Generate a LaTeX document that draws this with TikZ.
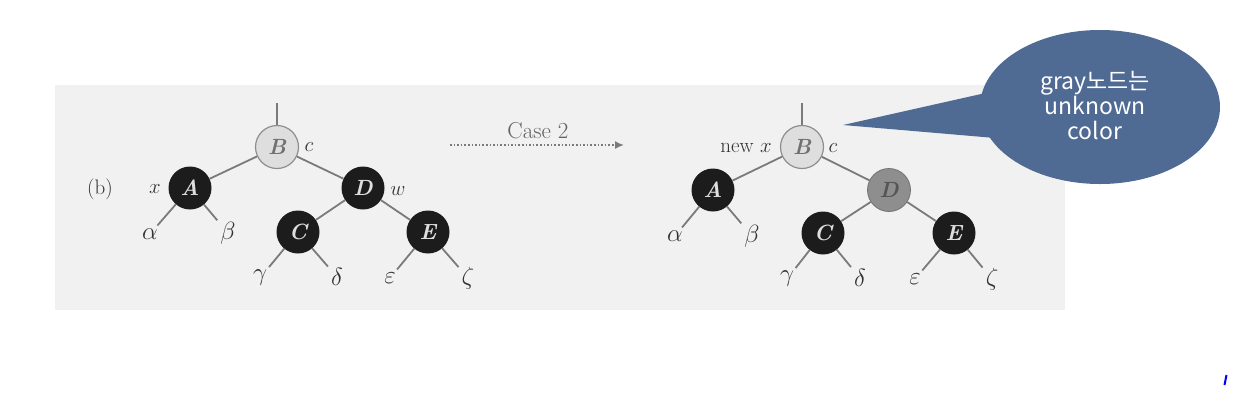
\documentclass[tikz,border=0pt]{standalone}
\usepackage{fontspec}
\newfontfamily\krfont{Noto Sans CJK KR}
\usetikzlibrary{arrows.meta,shapes.geometric}
\definecolor{panel}{HTML}{F1F1F1}
\definecolor{edgec}{HTML}{7A7A7A}
\definecolor{blk}{HTML}{1C1C1C}
\definecolor{lgray}{HTML}{DEDEDE}
\definecolor{mgray}{HTML}{8E8E8E}
\definecolor{bubble}{HTML}{506B93}
\definecolor{txt}{HTML}{333333}
\tikzset{
  rb/.style={circle,minimum size=43pt,inner sep=0pt,font=\fontsize{22}{22}\selectfont\bfseries\itshape},
  blacknode/.style={rb,fill=blk,text=lgray},
  lightnode/.style={rb,fill=lgray,draw=mgray,line width=1.2pt,text=mgray!80!black},
  graynode/.style={rb,fill=mgray,draw=mgray!80!black,line width=0.8pt,text=mgray!60!black},
  leaf/.style={inner sep=3pt,text=txt,font=\fontsize{25}{25}\selectfont},
  lbl/.style={inner sep=0pt,text=txt,font=\fontsize{21}{21}\selectfont},
  tedge/.style={draw=edgec,line width=1.8pt}
}
\begin{document}
\begin{tikzpicture}[x=1pt,y=-1pt]
\useasboundingbox (0,0) rectangle (1247,408);
\fill[white] (0,0) rectangle (1247,408);
\fill[panel] (55,85) rectangle (1065,310);

% left tree
\node[lightnode] (B1) at (277,147) {B};
\node[blacknode] (A1) at (190,188) {A};
\node[blacknode] (D1) at (363,188) {D};
\node[blacknode] (C1) at (298,232) {C};
\node[blacknode] (E1) at (428,232) {E};
\node[leaf] (al1) at (150,234) {$\alpha$};
\node[leaf] (be1) at (228,233) {$\beta$};
\node[leaf] (ga1) at (260,278) {$\gamma$};
\node[leaf] (de1) at (337,277) {$\delta$};
\node[leaf] (ep1) at (390,278) {$\varepsilon$};
\node[leaf] (ze1) at (468,278) {$\zeta$};
\coordinate (top1) at (277,103);
\node[lbl] (x1) at (155,189) {$x$};
\node[lbl] (c1) at (309,147) {$c$};
\node[lbl] (w1) at (398,191) {$w$};
\node[lbl] (b1) at (100,189) {(b)};
\draw[tedge] (top1) -- (B1);
\draw[tedge] (B1) -- (A1);
\draw[tedge] (B1) -- (D1);
\draw[tedge] (D1) -- (C1);
\draw[tedge] (D1) -- (E1);
\draw[tedge] (A1) -- (al1);
\draw[tedge] (A1) -- (be1);
\draw[tedge] (C1) -- (ga1);
\draw[tedge] (C1) -- (de1);
\draw[tedge] (E1) -- (ep1);
\draw[tedge] (E1) -- (ze1);

% arrow
\coordinate (as) at (450,145);
\coordinate (ae) at (624,145);
\draw[edgec,line width=1.6pt,dotted,-{Latex[length=9pt,width=8pt]}] (as) -- (ae);
\node[lbl,text=edgec!80!black,font=\fontsize{23}{23}\selectfont] (case) at (538,131) {Case 2};

% right tree
\node[lightnode] (B2) at (802,147) {B};
\node[blacknode] (A2) at (713,190) {A};
\node[graynode] (D2) at (889,190) {D};
\node[blacknode] (C2) at (823,233) {C};
\node[blacknode] (E2) at (954,233) {E};
\node[leaf] (al2) at (675,236) {$\alpha$};
\node[leaf] (be2) at (752,236) {$\beta$};
\node[leaf] (ga2) at (787,279) {$\gamma$};
\node[leaf] (de2) at (860,278) {$\delta$};
\node[leaf] (ep2) at (915,279) {$\varepsilon$};
\node[leaf] (ze2) at (992,279) {$\zeta$};
\coordinate (top2) at (802,103);
\node[lbl] (nx2) at (746,148) {new $x$};
\node[lbl] (c2) at (833,148) {$c$};
\draw[tedge] (top2) -- (B2);
\draw[tedge] (B2) -- (A2);
\draw[tedge] (B2) -- (D2);
\draw[tedge] (D2) -- (C2);
\draw[tedge] (D2) -- (E2);
\draw[tedge] (A2) -- (al2);
\draw[tedge] (A2) -- (be2);
\draw[tedge] (C2) -- (ga2);
\draw[tedge] (C2) -- (de2);
\draw[tedge] (E2) -- (ep2);
\draw[tedge] (E2) -- (ze2);

% callout
\coordinate (tip) at (843,125);
\fill[bubble] (tip) -- (990,92) -- (995,138) -- cycle;
\node[ellipse,fill=bubble,minimum width=240pt,minimum height=154pt,inner sep=0pt] (bub) at (1100,107) {};
\node[text=white,align=center,font=\krfont\fontsize{23}{25}\selectfont] (btxt) at (1095,106) {gray노드는\\unknown\\color};

% stray blue mark
\coordinate (m1) at (1226.5,375);
\coordinate (m2) at (1224.5,385);
\draw[blue,line width=2pt] (m1) -- (m2);
\end{tikzpicture}
\end{document}
